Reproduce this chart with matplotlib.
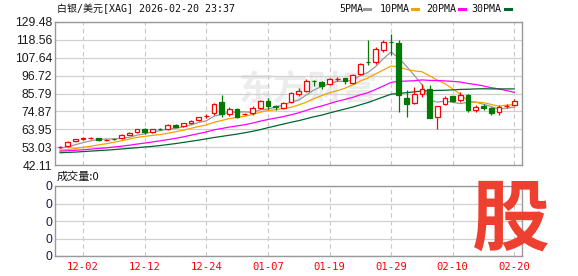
# 白银/美元 K线图 (XAG)
import numpy as np
import matplotlib.pyplot as plt

# 日期
dates = ['11-27', '11-28', '12-01', '12-02', '12-03', '12-04', '12-05', '12-08', '12-09', '12-10',
         '12-11', '12-12', '12-15', '12-16', '12-17', '12-18', '12-19', '12-22', '12-23', '12-24',
         '12-26', '12-29', '12-30', '12-31', '01-02', '01-05', '01-06', '01-07', '01-08', '01-09',
         '01-12', '01-13', '01-14', '01-15', '01-16', '01-19', '01-20', '01-21', '01-22', '01-23',
         '01-26', '01-27', '01-28', '01-29', '01-30', '02-02', '02-03', '02-04', '02-05', '02-06',
         '02-09', '02-10', '02-11', '02-12', '02-13', '02-16', '02-17', '02-18', '02-19', '02-20']
# OHLC
o = [52.9, 53.7, 56.6, 58.3, 58.5, 58.6, 57.2, 58.2, 58.8, 60.6,
     62.1, 63.9, 62.1, 64.1, 63.9, 66.5, 65.8, 67.6, 69.4, 71.8,
     73.7, 80.8, 73.3, 76.3, 73.1, 73.7, 77.0, 81.2, 77.9, 77.0,
     80.8, 85.5, 87.3, 93.7, 93.0, 91.6, 94.4, 95.1, 92.4, 97.5,
     105.2, 105.0, 112.6, 117.5, 116.6, 83.0, 80.2, 85.7, 88.3, 71.4,
     79.6, 84.3, 81.6, 85.1, 75.9, 78.1, 76.9, 74.5, 77.9, 79.0]
h = [53.6, 56.5, 58.3, 59.3, 59.4, 58.9, 58.2, 58.8, 61.0, 62.0,
     64.2, 64.9, 64.2, 64.6, 67.0, 66.9, 67.9, 69.5, 71.6, 73.0,
     80.2, 84.9, 77.3, 76.8, 74.0, 78.0, 81.8, 82.9, 78.8, 80.5,
     86.5, 89.2, 94.5, 93.9, 93.3, 95.2, 95.9, 95.5, 97.5, 104.3,
     118.5, 114.2, 118.3, 122.4, 118.3, 87.7, 89.8, 91.8, 90.8, 77.9,
     84.3, 84.5, 86.7, 85.7, 79.0, 79.6, 77.5, 78.5, 79.6, 82.2]
l = [52.5, 53.3, 56.3, 57.6, 57.9, 56.6, 56.8, 57.5, 58.3, 60.3,
     61.8, 61.1, 61.8, 63.3, 63.6, 65.2, 65.5, 67.3, 69.1, 71.0,
     72.7, 71.2, 72.2, 70.8, 72.5, 72.8, 76.3, 76.1, 76.0, 76.3,
     80.0, 84.3, 86.5, 90.5, 88.4, 91.0, 93.5, 91.6, 91.5, 97.0,
     103.0, 104.0, 111.2, 109.1, 74.5, 71.4, 79.6, 83.7, 71.0, 64.3,
     78.6, 80.5, 80.6, 74.5, 74.5, 75.5, 72.5, 72.9, 76.9, 78.1]
c = [53.2, 56.1, 57.9, 58.5, 58.7, 57.3, 57.4, 58.0, 60.4, 61.8,
     63.9, 62.1, 63.9, 63.9, 66.7, 65.6, 67.6, 69.2, 71.3, 72.0,
     79.2, 73.3, 76.1, 71.2, 73.3, 77.1, 81.2, 78.2, 77.7, 79.8,
     85.9, 87.3, 93.6, 93.3, 90.4, 94.6, 94.6, 93.2, 96.9, 103.8,
     104.8, 112.8, 117.3, 117.1, 85.1, 79.6, 85.3, 88.7, 71.0, 77.9,
     83.2, 81.0, 85.1, 75.5, 77.5, 76.9, 74.1, 77.5, 78.1, 81.0]
# 均线
ma5 = [52.3, 53.2, 54.5, 55.8, 56.9, 57.7, 58.0, 58.0, 58.4, 59.0,
       60.3, 61.2, 62.4, 63.1, 64.1, 64.4, 65.5, 66.6, 68.1, 69.1,
       71.9, 73.0, 74.4, 74.4, 74.6, 74.2, 75.8, 76.2, 77.5, 78.8,
       80.6, 81.8, 84.9, 88.0, 90.1, 91.8, 93.3, 93.2, 93.9, 96.6,
       98.7, 102.3, 107.1, 111.2, 107.4, 102.4, 96.9, 91.2, 81.9, 80.5,
       81.2, 80.4, 79.6, 80.5, 80.5, 79.2, 77.8, 76.3, 76.8, 77.5]
ma10 = [51.2, 51.6, 52.2, 52.9, 53.6, 54.4, 55.1, 56.0, 56.9, 57.9,
        59.0, 59.6, 60.2, 60.7, 61.5, 62.4, 63.4, 64.5, 65.6, 66.6,
        68.2, 69.3, 70.5, 71.2, 71.9, 73.0, 74.4, 75.3, 75.9, 76.7,
        77.4, 78.8, 80.5, 82.7, 84.5, 86.2, 87.5, 89.0, 91.0, 93.4,
        95.3, 97.8, 100.2, 102.6, 102.0, 100.5, 99.6, 99.1, 96.6, 94.0,
        91.8, 88.6, 85.4, 81.2, 80.5, 80.2, 79.1, 78.0, 78.7, 79.0]
ma20 = [50.6, 50.8, 51.1, 51.4, 51.8, 52.2, 52.6, 53.1, 53.6, 54.2,
        54.9, 55.5, 56.2, 56.9, 57.6, 58.4, 59.3, 60.3, 61.3, 62.3,
        63.6, 64.4, 65.3, 66.0, 66.7, 67.7, 68.9, 69.9, 70.8, 71.7,
        72.8, 74.0, 75.5, 77.0, 78.2, 79.6, 81.0, 82.2, 83.4, 85.0,
        86.3, 88.3, 90.4, 92.6, 93.2, 93.4, 93.6, 94.1, 93.8, 93.7,
        93.5, 93.2, 92.8, 91.9, 91.3, 90.4, 89.3, 88.6, 87.6, 86.5]
ma30 = [49.6, 49.8, 50.0, 50.3, 50.6, 50.9, 51.2, 51.5, 51.9, 52.3,
        52.7, 53.1, 53.5, 54.0, 54.6, 55.2, 55.9, 56.6, 57.3, 58.1,
        58.9, 59.6, 60.3, 61.0, 61.8, 62.7, 63.7, 64.9, 66.0, 67.1,
        68.2, 69.2, 70.4, 71.6, 72.6, 73.9, 75.1, 76.3, 77.5, 78.9,
        80.3, 82.0, 83.7, 85.4, 85.8, 86.3, 86.8, 87.3, 87.5, 87.7,
        87.8, 88.0, 88.3, 88.4, 88.6, 88.7, 88.6, 88.6, 88.6, 88.6]
y_ticks = [129.48, 118.56, 107.64, 96.72, 85.79, 74.87, 63.95, 53.03, 42.11]
label_dates = ['12-02', '12-12', '12-24', '01-07', '01-19', '01-29', '02-10', '02-20']
ma_names = ['5PMA', '10PMA', '20PMA', '30PMA']

# 颜色
RED = '#FF0000'
GRN = '#007A00'
ma_colors = ['#999999', '#F5A300', '#FF00FF', '#00662E']
MONO = ['DejaVu Sans Mono', 'Noto Sans CJK SC']
CJK = ['Noto Sans CJK SC', 'DejaVu Sans']

W, H = 578, 276
fig = plt.figure(figsize=(W / 100, H / 100), dpi=100)
ax = fig.add_axes([55 / W, 1 - 165 / H, 467 / W, 143 / H])
axv = fig.add_axes([55 / W, 1 - 256 / H, 467 / W, 70 / H])

x = np.arange(len(dates))
o, h, l, c = map(np.array, (o, h, l, c))
up = c >= o
tick_idx = [dates.index(d) for d in label_dates]

# 水印
ax.text(32.3, 88.5, '东方财富', fontsize=25, color='#ececec', ha='center', va='center',
        family=CJK, fontweight='bold', zorder=0)

# 均线
for ma, col in zip([ma5, ma10, ma20, ma30], ma_colors):
    ax.plot(x, ma, color=col, lw=0.9, zorder=2)

# K线
bw = 0.62
lo_b = np.minimum(o, c)
hi_b = np.maximum(o, c)
ax.vlines(x[up], l[up], lo_b[up], color=RED, lw=0.9, zorder=3)
ax.vlines(x[up], hi_b[up], h[up], color=RED, lw=0.9, zorder=3)
ax.vlines(x[~up], l[~up], h[~up], color=GRN, lw=0.9, zorder=3)
ax.bar(x[up], hi_b[up] - lo_b[up], bw, bottom=lo_b[up], facecolor='white',
       edgecolor=RED, lw=0.9, zorder=4)
ax.bar(x[~up], hi_b[~up] - lo_b[~up], bw, bottom=lo_b[~up], facecolor=GRN,
       edgecolor=GRN, lw=0.9, zorder=4)

for a in (ax, axv):
    a.set_xlim(-0.65, 60.0)
    a.set_xticks(tick_idx)
    a.grid(axis='x', color='#c8c8c8', linestyle=(0, (4, 3)), lw=0.8)
    a.grid(axis='y', color='#d0d0d0', lw=0.9)
    a.tick_params(length=0, pad=2)
    for s in a.spines.values():
        s.set_color('#999999')
        s.set_linewidth(1.0)
    a.set_axisbelow(True)

ax.set_ylim(42.11, 129.48)
ax.set_yticks(y_ticks)
ax.set_yticklabels(['%.2f' % v for v in y_ticks], family='Liberation Sans', fontsize=8.7, color='#1a1a1a')
ax.set_xticklabels([])

axv.set_ylim(0, 4)
axv.set_yticks([0, 1, 2, 3, 4])
axv.set_yticklabels(['0'] * 5, family='Liberation Sans', fontsize=8.7, color='#1a1a4a')
axv.set_xticklabels(label_dates, family=MONO, fontsize=7.6, color=RED)
axv.tick_params(axis='x', pad=4)

# 标题
fig.text(57 / W, 1 - 9 / H, '白银/美元[XAG] 2026-02-20 23:37', family=MONO, fontsize=7.2,
         va='center', ha='left', color='#111111')
fig.text(57 / W, 1 - 177 / H, '成交量:0', family=CJK, fontsize=8, va='center', ha='left', color='#111111')

# 图例
leg_x = [339, 380, 426, 471]
mark_x = [364, 412, 459, 505]
for name, col, tx, mx in zip(ma_names, ma_colors, leg_x, mark_x):
    fig.text(tx / W, 1 - 9 / H, name, family=MONO, fontsize=7.2, va='center', ha='left', color='#111111')
    fig.add_artist(plt.Line2D([mx / W, (mx + 6) / W], [1 - 9 / H, 1 - 9 / H], color=col, lw=2.2,
                              transform=fig.transFigure))

# 股
fig.text(511 / W, 1 - 221 / H, '股', family=CJK, fontsize=56, fontweight='heavy', color='#EE4030',
         ha='center', va='center', zorder=10)

fig.savefig('out.png', dpi=100)
